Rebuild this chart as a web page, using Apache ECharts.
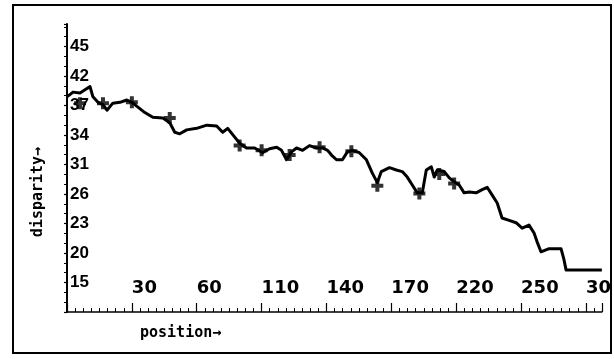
<!DOCTYPE html>
<html>
<head>
<meta charset="utf-8">
<script src="https://cdn.jsdelivr.net/npm/echarts@6/dist/echarts.min.js"></script>
<style>
  html, body { margin: 0; padding: 0; background: #fff; }
  #chart { width: 614px; height: 359px; }
</style>
</head>
<body>
<div id="chart"></div>
<script>
// Disparity profile along the scan line
const positions = [
  0, 3.5, 7.5, 10.4, 13.3, 15.0, 17.9, 20.8, 23.1, 26.5, 30.6, 34.6, 37.5, 41.0, 45.0,
  49.6, 55.4, 59.4, 62.3, 65.2, 69.2, 75.0, 80.8, 86.5, 90.0, 92.9, 95.8, 99.8, 103.8,
  108.5, 113.1, 117.1, 121.2, 124.0, 126.9, 129.8, 132.7, 136.2, 140.2, 144.2, 147.7,
  150.6, 152.9, 155.8, 159.2, 162.1, 165.0, 169.0, 173.1, 176.5, 179.4, 181.7, 186.4,
  190.4, 193.8, 196.7, 199.6, 202.5, 205.4, 207.7, 210.6, 212.3, 214.0, 218.1, 221.0,
  223.8, 226.7, 229.6, 232.5, 236.5, 240.0, 242.9, 245.8, 248.7, 251.5, 255.6, 259.6,
  263.1, 267.1, 270.0, 271.7, 274.0, 278.7, 285.6, 287.3, 288.5, 291.9, 309.2
];
const disparity = [
  38.6, 39.2, 39.1, 39.5, 39.9, 38.6, 37.9, 37.6, 36.9, 37.8, 37.9, 38.2, 37.9, 37.3, 36.6,
  36.0, 35.9, 35.3, 34.1, 33.9, 34.4, 34.6, 35.0, 34.9, 34.1, 34.6, 33.8, 32.7, 32.1,
  32.1, 31.5, 32.0, 32.2, 31.8, 30.6, 31.6, 32.1, 31.8, 32.4, 32.1, 32.1,
  31.8, 31.2, 30.6, 30.6, 31.6, 31.8, 31.5, 30.6, 28.9, 27.7, 29.1, 29.6,
  29.3, 29.1, 28.4, 27.4, 26.4, 26.4, 29.3, 29.7, 28.4, 29.3, 29.1, 28.3,
  27.8, 27.4, 26.4, 26.5, 26.4, 26.8, 27.1, 26.1, 25.1, 23.2, 22.9, 22.6,
  21.9, 22.3, 21.3, 20.2, 18.9, 19.3, 19.3, 17.9, 16.6, 16.6, 16.6
];

// Matched feature points, drawn as crosses
const matchPos  = [7.5, 20.8, 37.5, 59.4, 99.8, 112.5, 128.7, 146.0, 164.4, 179.4, 203.7, 215.2, 223.8];
const matchDisp = [37.8, 37.8, 37.9, 35.9, 32.4, 31.8, 31.2, 32.2, 31.7, 27.3, 26.3, 28.8, 27.6];

// Tick labels as printed on the axes
const xTickLabels = ['', '30', '60', '110', '140', '170', '220', '250', '30'];
const yTickLabels = ['', '15', '20', '23', '26', '31', '34', '37', '42', '45'];

const X_STEP = 37.5, Y_STEP = 3.75, Y_MIN = 11.25;

function zip(a, b) { return a.map((v, i) => [v, b[i]]); }

const chart = echarts.init(document.getElementById('chart'), null, { renderer: 'canvas' });

chart.setOption({
  backgroundColor: '#ffffff',
  animation: false,
  grid: { left: 67, top: 24, right: 11, bottom: 47, containLabel: false },
  xAxis: {
    type: 'value',
    min: 0,
    max: 309.2,
    interval: X_STEP,
    axisLine: { show: true, lineStyle: { color: '#000', width: 1.5 } },
    axisTick: { show: true, inside: true, length: 9, lineStyle: { color: '#000', width: 1.2 } },
    minorTick: { show: true, splitNumber: 8, length: 4, lineStyle: { color: '#000', width: 1 } },
    splitLine: { show: false },
    axisLabel: {
      inside: true,
      margin: 15,
      align: 'left',
      showMaxLabel: false,
      color: '#000',
      fontFamily: 'DejaVu Sans',
      fontWeight: 'bold',
      fontSize: 18,
      formatter: function (v) {
        const k = v / X_STEP;
        if (Math.abs(k - Math.round(k)) > 0.01) return '';
        return xTickLabels[Math.round(k)] || '';
      }
    }
  },
  yAxis: {
    type: 'value',
    min: Y_MIN,
    max: 47.86,
    interval: Y_STEP,
    axisLine: { show: true, lineStyle: { color: '#000', width: 2 } },
    axisTick: { show: true, inside: false, length: 3, lineStyle: { color: '#000', width: 1.2 } },
    minorTick: { show: true, splitNumber: 3, length: 3, lineStyle: { color: '#000', width: 1 } },
    splitLine: { show: false },
    axisLabel: {
      inside: true,
      margin: 3,
      showMaxLabel: false,
      color: '#000',
      fontFamily: 'Liberation Sans',
      fontWeight: 'bold',
      fontSize: 17,
      formatter: function (v) {
        const k = (v - Y_MIN) / Y_STEP;
        if (Math.abs(k - Math.round(k)) > 0.01) return '';
        return yTickLabels[Math.round(k)] || '';
      }
    }
  },
  graphic: [
    {
      type: 'rect',
      shape: { x: 13, y: 5, width: 598, height: 348 },
      style: { fill: 'none', stroke: '#000', lineWidth: 2 },
      silent: true
    },
    {
      type: 'text',
      x: 140, y: 333,
      style: {
        text: 'position\u2192',
        fill: '#000',
        font: 'bold 15px "DejaVu Sans Mono"',
        verticalAlign: 'middle',
        align: 'left'
      }
    },
    {
      type: 'text',
      x: 38, y: 192,
      rotation: Math.PI / 2,
      style: {
        text: 'disparity\u2192',
        fill: '#000',
        font: 'bold 15px "DejaVu Sans Mono"',
        verticalAlign: 'middle',
        align: 'center'
      }
    }
  ],
  series: [
    {
      name: 'disparity',
      type: 'line',
      data: zip(positions, disparity),
      showSymbol: false,
      symbol: 'none',
      lineStyle: { color: '#000', width: 3, join: 'round' },
      z: 3
    },
    {
      name: 'matches',
      type: 'scatter',
      data: zip(matchPos, matchDisp),
      symbol: 'path://M4 0H8V4H12V8H8V12H4V8H0V4H4Z',
      symbolSize: 12,
      itemStyle: { color: '#000' },
      z: 4
    }
  ]
});
</script>
</body>
</html>
